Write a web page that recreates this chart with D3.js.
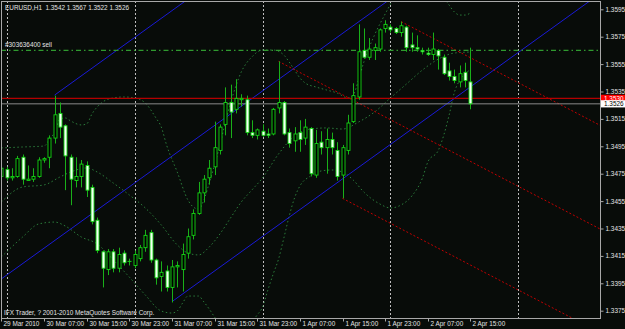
<!DOCTYPE html>
<html>
<head>
<meta charset="utf-8">
<script src="https://cdn.jsdelivr.net/npm/d3@7"></script>
<style>
  html, body { margin: 0; padding: 0; background: #080c09; }
  svg { display: block; }
  text { font-family: "Liberation Sans", Arial, sans-serif; }
</style>
</head>
<body>
<svg id="chart" width="625" height="329"></svg>
<script>
/* EURUSD H1 candles, 29 Mar 2010 23:00 .. 2 Apr 2010 15:00 (bar index 0..88) */

const SYMBOL = 'EURUSD,H1';

const opens = [
  1.3473,1.3478,1.3472,1.3473,1.3487,1.3470,1.3471,1.3473,1.3485,1.3487,
  1.3501,1.3519,1.3510,1.3487,1.3470,1.3473,1.3481,1.3465,1.3441,1.3418,
  1.3405,1.3418,1.3406,1.3417,1.3411,1.3408,1.3413,1.3421,1.3432,1.3412,
  1.3400,1.3404,1.3392,1.3407,1.3405,1.3417,1.3430,1.3446,1.3461,1.3472,
  1.3480,1.3492,1.3511,1.3527,1.3522,1.3529,1.3529,1.3505,1.3503,1.3506,
  1.3504,1.3504,1.3523,1.3527,1.3505,1.3499,1.3505,1.3501,1.3508,1.3474,
  1.3498,1.3494,1.3500,1.3492,1.3474,1.3492,1.3513,1.3531,1.3565,1.3560,
  1.3565,1.3566,1.3581,1.3582,1.3581,1.3578,1.3582,1.3569,1.3567,1.3565,
  1.3563,1.3562,1.3565,1.3560,1.3550,1.3546,1.3542,1.3549,1.3542
];
const highs = [
  1.3481,1.3480,1.3479,1.3488,1.3489,1.3481,1.3479,1.3487,1.3487,1.3503,
  1.3532,1.3527,1.3511,1.3489,1.3487,1.3485,1.3484,1.3467,1.3443,1.3419,
  1.3420,1.3420,1.3421,1.3419,1.3413,1.3419,1.3423,1.3434,1.3434,1.3413,
  1.3411,1.3408,1.3412,1.3411,1.3424,1.3435,1.3449,1.3469,1.3474,1.3485,
  1.3513,1.3511,1.3538,1.3540,1.3544,1.3533,1.3532,1.3514,1.3508,1.3511,
  1.3508,1.3523,1.3557,1.3528,1.3508,1.3509,1.3514,1.3515,1.3509,1.3507,
  1.3506,1.3508,1.3505,1.3498,1.3496,1.3518,1.3541,1.3584,1.3581,1.3574,
  1.3570,1.3581,1.3587,1.3584,1.3582,1.3586,1.3583,1.3578,1.3576,1.3567,
  1.3567,1.3578,1.3566,1.3562,1.3556,1.3551,1.3554,1.3556,1.3567
];
const lows = [
  1.3470,1.3470,1.3470,1.3472,1.3467,1.3470,1.3469,1.3472,1.3483,1.3479,
  1.3497,1.3501,1.3463,1.3452,1.3465,1.3465,1.3458,1.3438,1.3417,1.3392,
  1.3401,1.3403,1.3403,1.3408,1.3408,1.3406,1.3411,1.3418,1.3410,1.3394,
  1.3389,1.3389,1.3381,1.3392,1.3389,1.3413,1.3427,1.3445,1.3454,1.3467,
  1.3474,1.3489,1.3503,1.3501,1.3519,1.3524,1.3503,1.3501,1.3500,1.3502,
  1.3501,1.3503,1.3519,1.3503,1.3494,1.3491,1.3491,1.3496,1.3473,1.3472,
  1.3489,1.3475,1.3489,1.3470,1.3457,1.3489,1.3512,1.3529,1.3559,1.3558,
  1.3558,1.3564,1.3578,1.3578,1.3577,1.3575,1.3564,1.3564,1.3564,1.3562,
  1.3561,1.3558,1.3551,1.3547,1.3543,1.3541,1.3538,1.3538,1.3522
];
const closes = [
  1.3479,1.3472,1.3473,1.3486,1.3471,1.3471,1.3473,1.3485,1.3486,1.3501,
  1.3518,1.3509,1.3488,1.3471,1.3473,1.3482,1.3463,1.3440,1.3419,1.3406,
  1.3418,1.3406,1.3416,1.3410,1.3411,1.3416,1.3421,1.3430,1.3412,1.3399,
  1.3403,1.3392,1.3407,1.3408,1.3416,1.3429,1.3446,1.3461,1.3471,1.3479,
  1.3494,1.3509,1.3527,1.3520,1.3530,1.3530,1.3505,1.3503,1.3507,1.3503,
  1.3503,1.3522,1.3527,1.3504,1.3497,1.3504,1.3500,1.3509,1.3475,1.3497,
  1.3494,1.3500,1.3494,1.3473,1.3494,1.3512,1.3532,1.3564,1.3560,1.3566,
  1.3567,1.3580,1.3584,1.3580,1.3578,1.3583,1.3567,1.3567,1.3566,1.3564,
  1.3562,1.3566,1.3561,1.3548,1.3546,1.3543,1.3548,1.3543,1.3526
];

// Bollinger bands, [bar index, price]
const bbUpper = [[0,1.34938],[4,1.34945],[8,1.34952],[9,1.34996],[10,1.35054],[11,1.35149],[12,1.35157],[13,1.35135],[15,1.35106],[16,1.35113],[17,1.35186],[19,1.35273],[21,1.35303],[23,1.3531],[25,1.35303],[27,1.35266],[29,1.35157],[30,1.35091],[31,1.34959],[33,1.34762],[35,1.34558],[36,1.34507],[37,1.34492],[38,1.34558],[39,1.34682],[40,1.34814],[41,1.34959],[42,1.3512],[43,1.35266],[44,1.3539],[45,1.35492],[46,1.35558],[47,1.35602],[48,1.35638],[49,1.35653],[51,1.35653],[53,1.35616],[54,1.35565],[55,1.35507],[56,1.35449],[57,1.35412],[59,1.35383],[61,1.35361],[63,1.35339],[65,1.35303],[66,1.35324],[67,1.35434],[68,1.35565],[70,1.35762],[72,1.35916],[73,1.35989],[74,1.36076],[76,1.362],[79,1.36237],[82,1.36127],[83,1.3604],[84,1.35981],[85,1.3593],[86,1.35908],[87,1.35908],[88,1.35923]];
const bbMiddle = [[0,1.34543],[4,1.34653],[8,1.34668],[11,1.34726],[13,1.34762],[16,1.34792],[18,1.34762],[21,1.34682],[24,1.34595],[27,1.345],[30,1.34376],[33,1.3423],[35,1.34171],[37,1.34157],[39,1.34215],[41,1.3431],[43,1.34427],[45,1.34543],[47,1.34631],[49,1.34719],[52,1.34894],[55,1.35025],[58,1.35076],[61,1.35084],[64,1.35076],[67,1.35127],[70,1.352],[73,1.35303],[76,1.35405],[79,1.35507],[82,1.35587],[85,1.35631],[88,1.35638]];
const bbLower = [[0,1.34142],[4,1.34288],[7,1.34383],[10,1.34397],[12,1.34368],[15,1.34288],[18,1.34237],[21,1.3412],[24,1.33996],[27,1.33865],[30,1.33748],[32,1.33733],[33,1.33748],[34,1.33806],[35,1.33857],[37,1.33857],[38,1.33814],[39,1.33762],[40,1.33704],[41,1.33653],[43,1.33587],[45,1.33587],[46,1.33609],[47,1.33668],[48,1.33719],[49,1.33777],[50,1.33901],[51,1.34018],[52,1.34127],[53,1.34281],[54,1.34441],[55,1.34573],[56,1.3466],[58,1.34733],[60,1.3477],[62,1.34777],[64,1.34762],[66,1.34704],[68,1.34616],[71,1.34529],[73,1.345],[75,1.34522],[77,1.34587],[79,1.34719],[80,1.34835],[82,1.34923],[83,1.35032],[84,1.35178],[85,1.35346],[86,1.35434],[88,1.35507]];

// Andrews pitchforks: [bar index, price] for P1, P2, P3
const blueFork = [[-30, 1.33142], [10, 1.35324], [32, 1.33816]];
const redFork  = [[52, 1.3557], [75, 1.3586], [64, 1.3457]];

// horizontal levels
const orderPrice = 1.3565;
const orderLabel = '#303636400 sell';
const askPrice = 1.3530;
const bidPrice = 1.3526;

// axes
const priceTicks = [1.3595,1.3575,1.3555,1.3535,1.3515,1.3495,1.3475,1.3455,1.3435,1.3415,1.3395,1.3375];
const timeTickIdx = [0,8,16,24,32,40,48,56,64,72,80,88];
const timeTickLabels = ['29 Mar 2010','30 Mar 07:00','30 Mar 15:00','30 Mar 23:00','31 Mar 07:00','31 Mar 15:00',
  '31 Mar 23:00','1 Apr 07:00','1 Apr 15:00','1 Apr 23:00','2 Apr 07:00','2 Apr 15:00'];
const daySepIdx = [1, 25, 49, 73, 97];
const copyright = 'IFX Trader, ? 2001-2010 MetaQuotes Software Corp.';

// ── SETUP ─────────────────────────────────────────────────────────────────────

const PLOT = { left: 1, top: 1, right: 600, bottom: 318 };
const FONT = 6.4;
const TEXT_COL = '#e4e4e4';

const svg = d3.select('#chart');
const x = d3.scaleLinear().domain([-0.25, 112.3]).range([0, 600]);
const y = d3.scaleLinear().domain([1.3595, 1.3375]).range([9.3, 310.7]);

svg.append('rect').attr('width', 625).attr('height', 329).attr('fill', '#080c09');

svg.append('defs').append('clipPath').attr('id', 'plot-clip')
  .append('rect')
  .attr('x', PLOT.left).attr('y', PLOT.top)
  .attr('width', PLOT.right - PLOT.left).attr('height', PLOT.bottom - PLOT.top);

const plot = svg.append('g').attr('clip-path', 'url(#plot-clip)');

// day separators
plot.append('g').selectAll('line')
  .data(daySepIdx)
  .join('line')
  .attr('x1', d => Math.round(x(d)) + 0.5).attr('x2', d => Math.round(x(d)) + 0.5)
  .attr('y1', PLOT.top).attr('y2', PLOT.bottom)
  .attr('stroke', '#bdbdbd').attr('stroke-width', 1)
  .attr('stroke-dasharray', '2,2');

// ── BOLLINGER BANDS ───────────────────────────────────────────────────────────

const bandLine = d3.line()
  .x(d => x(d[0])).y(d => y(d[1]))
  .curve(d3.curveMonotoneX);

[bbUpper, bbMiddle, bbLower].forEach(band => {
  plot.append('path')
    .datum(band)
    .attr('d', bandLine)
    .attr('fill', 'none')
    .attr('stroke', '#2b7d3b')
    .attr('stroke-width', 1)
    .attr('stroke-dasharray', '1.5,2.5');
});

// ── PITCHFORKS ────────────────────────────────────────────────────────────────

function forkSegments(pts) {
  const P = pts.map(d => [x(d[0]), y(d[1])]);
  const mid = [(P[1][0] + P[2][0]) / 2, (P[1][1] + P[2][1]) / 2];
  const dx = mid[0] - P[0][0], dy = mid[1] - P[0][1];
  const k = 2000 / Math.hypot(dx, dy);
  return P.map(p => [p, [p[0] + dx * k, p[1] + dy * k]]);
}

plot.append('g').selectAll('line')
  .data(forkSegments(blueFork))
  .join('line')
  .attr('x1', d => d[0][0]).attr('y1', d => d[0][1])
  .attr('x2', d => d[1][0]).attr('y2', d => d[1][1])
  .attr('stroke', '#1a1ad6').attr('stroke-width', 1);

plot.append('g').selectAll('line')
  .data(forkSegments(redFork))
  .join('line')
  .attr('x1', d => d[0][0]).attr('y1', d => d[0][1])
  .attr('x2', d => d[1][0]).attr('y2', d => d[1][1])
  .attr('stroke', '#c00000').attr('stroke-width', 1)
  .attr('stroke-dasharray', '2,2');

// ── HORIZONTAL LEVELS ─────────────────────────────────────────────────────────

plot.append('line')
  .attr('x1', PLOT.left).attr('x2', PLOT.right)
  .attr('y1', y(orderPrice)).attr('y2', y(orderPrice))
  .attr('stroke', '#2f9a2f').attr('stroke-width', 1.2)
  .attr('stroke-dasharray', '5,3,1.5,3');

plot.append('line')
  .attr('x1', PLOT.left).attr('x2', PLOT.right)
  .attr('y1', y(askPrice)).attr('y2', y(askPrice))
  .attr('stroke', '#b40000').attr('stroke-width', 1.2);

plot.append('line')
  .attr('x1', PLOT.left).attr('x2', PLOT.right)
  .attr('y1', y(bidPrice)).attr('y2', y(bidPrice))
  .attr('stroke', '#8a8a8a').attr('stroke-width', 1);

// ── CANDLES ───────────────────────────────────────────────────────────────────

const bars = d3.range(opens.length).map(i => ({
  i, o: opens[i], h: highs[i], l: lows[i], c: closes[i]
}));

const candles = plot.append('g').selectAll('g')
  .data(bars)
  .join('g')
  .attr('transform', d => `translate(${Math.round(x(d.i)) + 0.5},0)`);

candles.append('line')
  .attr('y1', d => y(d.h)).attr('y2', d => y(d.l))
  .attr('stroke', '#19b019').attr('stroke-width', 1);

candles.filter(d => d.o !== d.c).append('rect')
  .attr('x', -1.5).attr('width', 3)
  .attr('y', d => y(Math.max(d.o, d.c)))
  .attr('height', d => Math.max(1, Math.abs(y(d.o) - y(d.c))))
  .attr('fill', d => d.c > d.o ? '#000000' : '#f4fff4')
  .attr('stroke', '#12d812').attr('stroke-width', 0.9);

candles.filter(d => d.o === d.c).append('line')
  .attr('x1', -2).attr('x2', 2)
  .attr('y1', d => y(d.o)).attr('y2', d => y(d.o))
  .attr('stroke', '#12d812').attr('stroke-width', 1);

// ── FRAME & AXES ──────────────────────────────────────────────────────────────

svg.append('rect')
  .attr('x', PLOT.left + 0.5).attr('y', PLOT.top + 0.5)
  .attr('width', PLOT.right - PLOT.left).attr('height', PLOT.bottom - PLOT.top)
  .attr('fill', 'none').attr('stroke', '#a8a8a8').attr('stroke-width', 1);

const yAxis = svg.append('g')
  .attr('transform', `translate(${PLOT.right + 0.5},0)`)
  .call(d3.axisRight(y).tickValues(priceTicks).tickSize(3).tickPadding(2).tickFormat(d3.format('.4f')));
yAxis.select('.domain').remove();
yAxis.selectAll('line').attr('stroke', '#a8a8a8');
yAxis.selectAll('text')
  .attr('fill', TEXT_COL).attr('font-size', FONT)
  .attr('font-family', '"Liberation Sans", Arial, sans-serif');

const xAxis = svg.append('g')
  .attr('transform', `translate(0,${PLOT.bottom + 0.5})`)
  .call(d3.axisBottom(x).tickValues(timeTickIdx).tickSize(3)
    .tickFormat((d, k) => timeTickLabels[k]));
xAxis.select('.domain').remove();
xAxis.selectAll('.tick').attr('transform', d => `translate(${Math.round(x(d)) + 0.5},0)`);
xAxis.selectAll('line').attr('stroke', '#a8a8a8');
xAxis.selectAll('text')
  .attr('fill', TEXT_COL).attr('font-size', FONT)
  .attr('font-family', '"Liberation Sans", Arial, sans-serif')
  .attr('text-anchor', 'start')
  .attr('x', 2).attr('y', 3).attr('dy', '0.71em');

// ask / bid price tags
function priceTag(price, bg, fg) {
  const g = svg.append('g').attr('transform', `translate(${PLOT.right + 1},${y(price)})`);
  g.append('rect').attr('x', 0).attr('y', -3.6).attr('width', 24).attr('height', 7.2).attr('fill', bg);
  g.append('text').attr('x', 3).attr('y', 0).attr('dy', '0.35em')
    .attr('font-size', FONT).attr('fill', fg).text(d3.format('.4f')(price));
}
priceTag(askPrice, '#ff0000', '#ffffff');
priceTag(bidPrice, '#ffffff', '#000000');

// ── TEXTS ─────────────────────────────────────────────────────────────────────

const last = bars[bars.length - 1];
const fmt = d3.format('.4f');
svg.append('text')
  .attr('x', 5).attr('y', 9.5)
  .attr('font-size', FONT).attr('fill', TEXT_COL)
  .attr('xml:space', 'preserve')
  .text(`${SYMBOL}  ${fmt(last.o)} ${fmt(last.h)} ${fmt(last.l)} ${fmt(last.c)}`);

svg.append('text')
  .attr('x', 5).attr('y', y(orderPrice) - 3)
  .attr('font-size', FONT).attr('fill', TEXT_COL)
  .text(orderLabel);

svg.append('text')
  .attr('x', 4).attr('y', 315)
  .attr('font-size', FONT).attr('fill', TEXT_COL)
  .text(copyright);
</script>
</body>
</html>
